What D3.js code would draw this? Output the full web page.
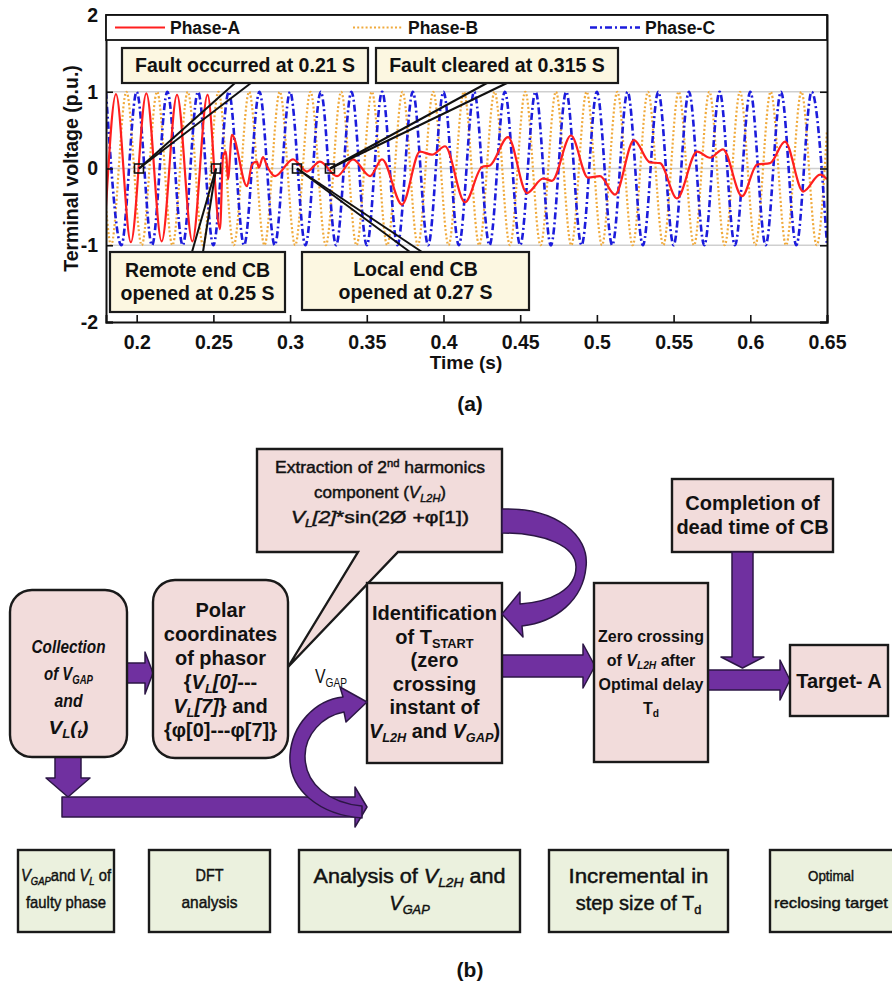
<!DOCTYPE html>
<html><head><meta charset="utf-8">
<script src="https://cdn.jsdelivr.net/npm/d3@7"></script>
<style>
body{margin:0;background:#fff}
svg{display:block}
text{font-family:"Liberation Sans",Arial,Helvetica,sans-serif}
</style>
</head><body>
<svg id="fig" width="892" height="989"></svg>
<script>
// ---------- waveform data (time in s, voltage in p.u.) ----------
const xTicks = [0.2, 0.25, 0.3, 0.35, 0.4, 0.45, 0.5, 0.55, 0.6, 0.65];
const xTickLabels = ["0.2", "0.25", "0.3", "0.35", "0.4", "0.45", "0.5", "0.55", "0.6", "0.65"];
const yTicks = [-2, -1, 0, 1, 2];
const yTickLabels = ["-2", "-1", "0", "1", "2"];
const yGrid = [-1, 0, 1];
const seriesNames = ["Phase-A", "Phase-B", "Phase-C"];

// Phase-A: full sine until the breakers open, then a small residual oscillation
const phaseA = [
  [0.1800,-0.50],[0.1865,0.97],[0.1962,-0.96],[0.2063,0.98],[0.2163,-0.95],[0.2263,0.96],
  [0.2363,-0.95],[0.2462,0.96],[0.2543,-0.79],[0.2563,0.16],[0.2582,0.22],[0.2595,-0.14],
  [0.2621,0.44],[0.2719,-0.23],[0.2752,0.05],[0.2784,0.09],[0.2797,0.01],[0.2823,0.15],
  [0.2850,0.03],[0.2902,-0.10],[0.3019,0.12],[0.3110,-0.04],[0.3195,0.09],[0.3306,-0.10],
  [0.3410,0.12],[0.3521,-0.10],[0.3599,0.12],[0.3730,-0.47],[0.3847,0.22],[0.3925,0.18],
  [0.4010,0.29],[0.4140,-0.44],[0.4251,0.02],[0.4303,0.04],[0.4421,0.41],[0.4544,-0.32],
  [0.4649,-0.13],[0.4707,-0.16],[0.4831,0.43],[0.4942,-0.12],[0.5020,-0.10],[0.5118,-0.34],
  [0.5242,0.37],[0.5346,0.08],[0.5411,0.07],[0.5522,-0.39],[0.5653,0.22],[0.5737,0.14],
  [0.5822,0.25],[0.5946,-0.36],[0.6044,0.05],[0.6129,0.07],[0.6226,0.35],[0.6344,-0.30],
  [0.6455,-0.08],[0.6500,-0.14]
];

// Phase-B: crests and troughs of the healthy phase
const phaseB = [
  [0.18,-0.5],[0.1833,-1],[0.1933,1],[0.2033,-1],[0.2133,1],[0.2233,-1],[0.2333,1],[0.2433,-1],
  [0.2533,1],[0.2633,-1],[0.2733,1],[0.2833,-1],[0.2933,1],[0.3033,-1],[0.3133,1],[0.3233,-1],
  [0.3333,1],[0.3433,-1],[0.3533,1],[0.3633,-1],[0.3733,1],[0.3833,-1],[0.3933,1],[0.4033,-1],
  [0.4133,1],[0.4233,-1],[0.4333,1],[0.4433,-1],[0.4533,1],[0.4633,-1],[0.4733,1],[0.4833,-1],
  [0.4933,1],[0.5033,-1],[0.5133,1],[0.5233,-1],[0.5333,1],[0.5433,-1],[0.5533,1],[0.5633,-1],
  [0.5733,1],[0.5833,-1],[0.5933,1],[0.6033,-1],[0.6133,1],[0.6233,-1],[0.6333,1],[0.6433,-1],
  [0.65,0.5]
];

// Phase-C: crests and troughs of the healthy phase
const phaseC = [
  [0.18,1],[0.19,-1],[0.20,1],[0.21,-1],[0.22,1],[0.23,-1],[0.24,1],[0.25,-1],
  [0.26,1],[0.27,-1],[0.28,1],[0.29,-1],[0.30,1],[0.31,-1],[0.32,1],[0.33,-1],
  [0.34,1],[0.35,-1],[0.36,1],[0.37,-1],[0.38,1],[0.39,-1],[0.40,1],[0.41,-1],
  [0.42,1],[0.43,-1],[0.44,1],[0.45,-1],[0.46,1],[0.47,-1],[0.48,1],[0.49,-1],
  [0.50,1],[0.51,-1],[0.52,1],[0.53,-1],[0.54,1],[0.55,-1],[0.56,1],[0.57,-1],
  [0.58,1],[0.59,-1],[0.60,1],[0.61,-1],[0.62,1],[0.63,-1],[0.64,1],[0.65,-1]
];

// event markers on the zero line and their callout texts
const eventTimes = [0.2015, 0.2517, 0.3045, 0.3260];
const eventTexts = [
  ["Fault occurred at 0.21 S"],
  ["Remote end CB", "opened at 0.25 S"],
  ["Local end CB", "opened at 0.27 S"],
  ["Fault cleared at 0.315 S"]
];

const svg = d3.select("#fig");
const FONT = 19.5;

// ---------- rich text helper (italic / sub / superscript runs) ----------
function rich(g, cx, cy, lines, o) {
  const fs = o.size, lh = o.lh || fs * 1.2, n = lines.length;
  lines.forEach((segs, k) => {
    const base = cy + (k - (n - 1) / 2) * lh + fs * 0.35;
    const t = g.append("text").attr("x", cx).attr("y", base)
      .attr("text-anchor", "middle").attr("font-size", fs)
      .attr("font-weight", o.weight || "bold")
      .attr("font-style", o.italic ? "italic" : "normal")
      .attr("fill", "#111");
    if (o.thick) t.attr("stroke", "#111").attr("stroke-width", o.thick);
    if (o.widths && o.widths[k]) t.attr("textLength", o.widths[k]).attr("lengthAdjust", "spacingAndGlyphs");
    let shift = 0;
    segs.forEach(s => {
      if (typeof s === "string") s = {t: s};
      const want = s.sub ? fs * 0.22 : s.sup ? -fs * 0.36 : 0;
      const ts = t.append("tspan").text(s.t).attr("dy", want - shift);
      shift = want;
      if (s.sub || s.sup) ts.attr("font-size", fs * 0.64);
      if (s.i) ts.attr("font-style", "italic");
    });
  });
}

// ================= (a) terminal voltage plot =================
const x = d3.scaleLinear().domain([0.18, 0.65]).range([106, 827]);
const y = d3.scaleLinear().domain([-2, 2]).range([322, 15]);
const gA = svg.append("g");

gA.append("defs").append("clipPath").attr("id", "plotClip")
  .append("rect").attr("x", x(0.18)).attr("y", y(2)).attr("width", x(0.65) - x(0.18)).attr("height", y(-2) - y(2));

// horizontal grid
gA.append("g").selectAll("line").data(yGrid).join("line")
  .attr("x1", x(0.18)).attr("x2", x(0.65)).attr("y1", d => y(d)).attr("y2", d => y(d))
  .attr("stroke", "#cfcfcf").attr("stroke-width", 1.3);

const line = d3.line().x(d => x(d[0])).y(d => y(d[1])).curve(d3.curveMonotoneX);
const styles = {
  "Phase-A": {data: phaseA, color: "#ff1f1f", width: 2.2, dash: null},
  "Phase-B": {data: phaseB, color: "#f0aa3c", width: 2.2, dash: "2,2.2"},
  "Phase-C": {data: phaseC, color: "#1c1cdc", width: 2.6, dash: "7,3,2,3"}
};
const curves = gA.append("g").attr("clip-path", "url(#plotClip)");
["Phase-B", "Phase-C", "Phase-A"].forEach(name => {
  const s = styles[name];
  curves.append("path").datum(s.data).attr("d", line)
    .attr("fill", "none").attr("stroke", s.color).attr("stroke-width", s.width)
    .attr("stroke-dasharray", s.dash).attr("stroke-linejoin", "round");
});

// axes
const ax = gA.append("g").attr("transform", `translate(0,${y(-2)})`)
  .call(d3.axisBottom(x).tickValues(xTicks).tickFormat((d, i) => xTickLabels[i]).tickSize(-7).tickPadding(13));
const ay = gA.append("g").attr("transform", `translate(${x(0.18)},0)`)
  .call(d3.axisLeft(y).tickValues(yTicks).tickFormat((d, i) => yTickLabels[i]).tickSize(-7).tickPadding(8));
const ar = gA.append("g").attr("transform", `translate(${x(0.65)},0)`)
  .call(d3.axisRight(y).tickValues(yTicks).tickFormat("").tickSize(-7));
[ax, ay, ar].forEach(a => {
  a.select(".domain").attr("stroke", "#111").attr("stroke-width", 2);
  a.selectAll(".tick line").attr("stroke", "#111").attr("stroke-width", 1.6);
  a.selectAll("text").attr("font-size", FONT).attr("font-weight", "bold").attr("fill", "#111")
    .attr("font-family", '"Liberation Sans",Arial,sans-serif');
});
// top frame
gA.append("line").attr("x1", x(0.18)).attr("x2", x(0.65)).attr("y1", y(2)).attr("y2", y(2))
  .attr("stroke", "#111").attr("stroke-width", 2);

// legend strip across the top of the axes
gA.append("rect").attr("x", x(0.18)).attr("y", y(2)).attr("width", x(0.65) - x(0.18)).attr("height", 25)
  .attr("fill", "#fff").attr("stroke", "#111").attr("stroke-width", 1.8);
const legX = [115, 353, 590];
seriesNames.forEach((name, i) => {
  const s = styles[name];
  gA.append("line").attr("x1", legX[i]).attr("x2", legX[i] + 50).attr("y1", 27.5).attr("y2", 27.5)
    .attr("stroke", s.color).attr("stroke-width", s.width).attr("stroke-dasharray", s.dash);
  gA.append("text").attr("x", legX[i] + 55).attr("y", 27.5 + 6.3).attr("font-size", 17.5)
    .attr("font-weight", "bold").attr("fill", "#111").text(name);
});

// axis titles
gA.append("text").attr("transform", "translate(78,168.5) rotate(-90)").attr("text-anchor", "middle")
  .attr("font-size", FONT).attr("font-weight", "bold").attr("fill", "#111").text("Terminal voltage (p.u.)");
gA.append("text").attr("x", 466).attr("y", 369).attr("text-anchor", "middle")
  .attr("font-size", 19).attr("font-weight", "bold").attr("fill", "#111").text("Time (s)");
gA.append("text").attr("x", 470).attr("y", 411).attr("text-anchor", "middle")
  .attr("font-size", 21).attr("font-weight", "bold").attr("fill", "#111").text("(a)");

// callouts: box, pointer lines, marker square
const callouts = [
  {box: [122, 48, 246, 35], from: [[235, 83], [251, 83]]},
  {box: [110, 252, 175, 60], from: [[192, 252], [203, 252]]},
  {box: [302, 252, 227, 58], from: [[410, 252], [422, 252]]},
  {box: [376, 48, 242, 35], from: [[487, 83], [507, 83]]}
];
const gC = gA.append("g");
callouts.forEach((c, i) => {
  const mx = x(eventTimes[i]), my = y(0);
  c.from.forEach(p => gC.append("line").attr("x1", p[0]).attr("y1", p[1]).attr("x2", mx).attr("y2", my)
    .attr("stroke", "#111").attr("stroke-width", 2));
  gC.append("rect").attr("x", mx - 4.5).attr("y", my - 4.5).attr("width", 9).attr("height", 9)
    .attr("fill", "none").attr("stroke", "#111").attr("stroke-width", 1.6);
  const [bx, by, bw, bh] = c.box;
  gC.append("rect").attr("x", bx).attr("y", by).attr("width", bw).attr("height", bh)
    .attr("fill", "#fcf7e1").attr("stroke", "#1a1a1a").attr("stroke-width", 2.2);
  rich(gC, bx + bw / 2, by + bh / 2, eventTexts[i].map(s => [s]), {size: FONT, lh: 23});
});

// ================= (b) reclosing flowchart =================
const gB = svg.append("g");
const PINK = "#f2dcdb", GREEN = "#ebf1de", EDGE = "#1a1a1a";
const PURPLE = "#7030a0", PEDGE = "#2c1645";

function box(x0, y0, x1, y1, fill, r) {
  gB.append("rect").attr("x", x0).attr("y", y0).attr("width", x1 - x0).attr("height", y1 - y0)
    .attr("rx", r || 0).attr("ry", r || 0)
    .attr("fill", fill).attr("stroke", EDGE).attr("stroke-width", 2.4);
}
function arrowH(x0, tip, yc, sh, hh, hl) {
  const xb = tip - hl;
  gB.append("path").attr("d",
    `M${x0},${yc - sh}H${xb}V${yc - hh}L${tip},${yc}L${xb},${yc + hh}V${yc + sh}H${x0}Z`)
    .attr("fill", PURPLE).attr("stroke", PEDGE).attr("stroke-width", 1.5).attr("stroke-linejoin", "round");
}
function arrowV(xc, y0, tip, sh, hh, hl) {
  const yb = tip - hl;
  gB.append("path").attr("d",
    `M${xc - sh},${y0}V${yb}H${xc - hh}L${xc},${tip}L${xc + hh},${yb}H${xc + sh}V${y0}Z`)
    .attr("fill", PURPLE).attr("stroke", PEDGE).attr("stroke-width", 1.5).attr("stroke-linejoin", "round");
}

// extraction box as a callout pointing at the phasor box
gB.append("path").attr("d", "M257,449H502V552H398L288,667L358,552H257Z")
  .attr("fill", PINK).attr("stroke", EDGE).attr("stroke-width", 2.4).attr("stroke-linejoin", "miter");
rich(gB, 380, 492, [
  ["Extraction of 2", {t: "nd", sup: 1}, " harmonics"],
  ["component (", {t: "V", i: 1}, {t: "L2H", i: 1, sub: 1}, ")"],
  [{t: "V", i: 1}, {t: "L", i: 1, sub: 1}, {t: "[2]", i: 1}, "*sin(2Ø +φ[1])"]
], {size: 17, lh: 25, weight: "normal", thick: 0.45, widths: [210, 132, 178]});

box(672, 479, 833, 552, PINK);
rich(gB, 752.5, 515, [["Completion of"], ["dead time of CB"]], {size: 20, lh: 24});

// arrows drawn beneath the process boxes
arrowV(68, 757, 797, 13, 22, 19);
arrowH(62, 367, 807, 10, 20, 12);
arrowH(126, 153, 673, 10, 21, 8);
arrowH(502, 595, 666, 11, 22, 12);
arrowV(742.5, 552, 668, 10.5, 21.5, 11);
arrowH(708, 790, 680, 10, 20, 10);

box(10, 590, 127, 757, PINK, 22);
rich(gB, 68.5, 687, [
  ["Collection"],
  ["of V", {t: "GAP", sub: 1}],
  ["and"],
  ["V", {t: "L", sub: 1}, "(", {t: "t", sub: 1}, ")"]
], {size: 19, lh: 27, italic: true, widths: [74, 49, 28, 40]});

box(153, 580, 288, 758, PINK, 22);
rich(gB, 220.5, 670, [
  ["Polar"],
  ["coordinates"],
  ["of phasor"],
  ["{", {t: "V", i: 1}, {t: "L", i: 1, sub: 1}, {t: "[0]", i: 1}, "---"],
  [{t: "V", i: 1}, {t: "L", i: 1, sub: 1}, {t: "[7]", i: 1}, "} and"],
  ["{φ[0]---φ[7]}"]
], {size: 20, lh: 24});

box(367, 583, 502, 763, PINK);
rich(gB, 434.5, 672, [
  ["Identification"],
  ["of T", {t: "START", sub: 1}],
  ["(zero"],
  ["crossing"],
  ["instant of"],
  [{t: "V", i: 1}, {t: "L2H", i: 1, sub: 1}, " and ", {t: "V", i: 1}, {t: "GAP", i: 1, sub: 1}, ")"]
], {size: 20, lh: 23.6, widths: [125, 0, 0, 0, 0, 131]});

box(594, 583, 708, 762, PINK);
rich(gB, 651, 672, [
  ["Zero crossing"],
  ["of ", {t: "V", i: 1}, {t: "L2H", i: 1, sub: 1}, " after"],
  ["Optimal delay"],
  ["T", {t: "d", sub: 1}]
], {size: 16, lh: 24});

box(790, 645, 888, 716, PINK);
rich(gB, 839, 680.5, [["Target- A"]], {size: 20});

// curved arrow from the extraction box back into the identification box
gB.append("path").attr("d",
  "M502,509C555,507 590,535 586,567C583,600 556,622 522,626L523,637L502,614L520,592L520,604" +
  "C550,602 576,590 576,567C576,546 545,533 502,533Z")
  .attr("fill", PURPLE).attr("stroke", PEDGE).attr("stroke-width", 1.5).attr("stroke-linejoin", "round");

// curved arrow lifting V_GAP from the bottom arrow into the identification box
gB.append("path").attr("d",
  "M362,818C320,815 288,790 290,755C292,725 315,700 343,697L340,687L367,702L346,722L344,712" +
  "C322,716 305,735 305,756C305,785 330,803 362,806Z")
  .attr("fill", PURPLE).attr("stroke", PEDGE).attr("stroke-width", 1.5).attr("stroke-linejoin", "round");
rich(gB, 331, 676, [["V", {t: "GAP", sub: 1}]], {size: 20, weight: "normal", widths: [32]});

// bottom row of stage labels
const stageBoxes = [
  {x0: 18, x1: 114, lines: [[{t: "V", i: 1}, {t: "GAP", i: 1, sub: 1}, "and ", {t: "V", i: 1}, {t: "L", i: 1, sub: 1}, " of"], ["faulty phase"]], size: 17, w: [90, 80]},
  {x0: 149, x1: 270, lines: [["DFT"], ["analysis"]], size: 17, w: [28, 56]},
  {x0: 299, x1: 520, lines: [["Analysis of  ", {t: "V", i: 1}, {t: "L2H", i: 1, sub: 1}, " and"], [{t: "V", i: 1}, {t: "GAP", i: 1, sub: 1}]], size: 20, w: [192, 0]},
  {x0: 549, x1: 728, lines: [["Incremental  in"], ["step size of T", {t: "d", sub: 1}]], size: 20, w: [140, 0]},
  {x0: 770, x1: 900, lines: [["Optimal"], ["reclosing target"]], size: 15, w: [46, 114]}
];
stageBoxes.forEach(s => {
  box(s.x0, 850, s.x1, 932, GREEN);
  rich(gB, (s.x0 + Math.min(s.x1, 892)) / 2, 889, s.lines, {size: s.size, lh: 27, weight: "normal", thick: 0.45, widths: s.w});
});

gB.append("text").attr("x", 470).attr("y", 977).attr("text-anchor", "middle")
  .attr("font-size", 21).attr("font-weight", "bold").attr("fill", "#111").text("(b)");
</script>
</body></html>
